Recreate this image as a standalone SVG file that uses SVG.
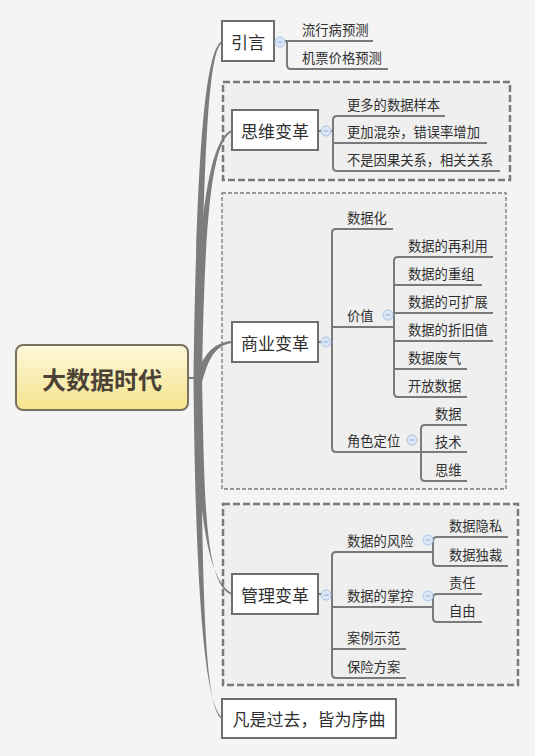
<svg xmlns="http://www.w3.org/2000/svg" width="535" height="756" viewBox="0 0 535 756">
<defs>
<linearGradient id="cg" x1="0" y1="0" x2="0" y2="1">
<stop offset="0" stop-color="#fdf8dc"/>
<stop offset="1" stop-color="#f5e38c"/>
</linearGradient>
<style>
text{font-family:"Noto Sans CJK SC","Noto Sans",sans-serif;fill:#2f2f2f;dominant-baseline:central}
.topic rect{fill:#fff;stroke:#6e6e6e;stroke-width:2}
.topic text{font-size:17px;text-anchor:middle}
.sub{font-size:13.3px}
.ln{fill:none;stroke:#7a7a7a;stroke-width:2}
.br{fill:#7c7c7c}
.box{fill:#efefef;stroke:#7a7a7a;stroke-width:2.5;stroke-dasharray:7 3}
.box2{fill:#efefef;stroke:#7a7a7a;stroke-width:1.3;stroke-dasharray:4 2}
.cb circle{fill:#dde8f6;stroke:#aac3e4;stroke-width:1}
.cb path{stroke:#8eaedb;stroke-width:1}
</style>
</defs>
<rect width="535" height="756" fill="#f4f4f4"/>
<g id="boundaries">
<rect class="box" x="223" y="82" width="287" height="98"/>
<rect class="box2" x="222" y="193" width="284" height="296"/>
<rect class="box" x="223" y="504" width="295" height="181"/>
</g>
<g id="connectors">
<path class="ln" d="M186,378 H198" stroke-width="2.5"/>
<path class="br" d="M193.5,378 C196.5,150 205.5,49 222,41 L222,43 C208.5,51 203.5,150 200.5,378 Z"/>
<path class="br" d="M195,378 C197,230 207.5,139 232,130 L232,132 C210.5,141 204.5,230 202,378 Z"/>
<path class="br" d="M195,380 C199.5,367 206,343 232,341 L232,343 C209.5,345.5 205.5,373 202,382 Z"/>
<path class="br" d="M195,378 C197,500 205.5,580.5 232,593 L232,595 C204.5,585 204.5,500 202,378 Z"/>
<path class="br" d="M193.5,378 C195.5,600 205.5,705.5 222,717 L222,719 C204.5,707.5 202.5,600 200.5,378 Z"/>
<path class="ln" d="M274,41 H373 M287,41 V65 Q287,69 291,69 H388"/>
<path class="ln" d="M318,131 H333 M445,116 H337 Q333,116 333,120 V167 Q333,171 337,171 H500 M333,143 H487"/>
<path class="ln" d="M318,342 H332 M393,229 H336 Q332,229 332,233 V448 Q332,452 336,452 H467 M332,327 H394"/>
<path class="ln" d="M493,257 H398 Q394,257 394,261 V393 Q394,397 398,397 H467 M394,285 H482 M394,313 H493 M394,341 H493 M394,369 H467"/>
<path class="ln" d="M467,425 H425 Q421,425 421,429 V477 Q421,481 425,481 H467"/>
<path class="ln" d="M318,594 H332 M433,552 H336 Q332,552 332,556 V674 Q332,678 336,678 H406 M332,607 H433 M332,649 H406"/>
<path class="ln" d="M508,537 H437 Q433,537 433,541 V562 Q433,566 437,566 H508"/>
<path class="ln" d="M482,594 H437 Q433,594 433,598 V618 Q433,622 437,622 H482"/>
</g>
<g id="center">
<rect x="16" y="345" width="172" height="65" rx="7" fill="url(#cg)" stroke="#7a715f" stroke-width="2"/>
<text x="102" y="378" font-size="24" font-weight="bold" text-anchor="middle" style="fill:#4a4236">大数据时代</text>
</g>
<g id="t-yinyan" class="topic"><rect x="222" y="21" width="52" height="40"/><text x="248" y="41">引言</text></g>
<g id="t-siwei" class="topic"><rect x="232" y="110" width="86" height="40"/><text x="275" y="130">思维变革</text></g>
<g id="t-shangye" class="topic"><rect x="232" y="322" width="86" height="40"/><text x="275" y="342">商业变革</text></g>
<g id="t-guanli" class="topic"><rect x="232" y="574" width="86" height="40"/><text x="275" y="594">管理变革</text></g>
<g id="t-fanshi" class="topic"><rect x="222" y="699" width="174" height="39"/><text x="309" y="718">凡是过去，皆为序曲</text></g>
<g id="collapse" class="cb">
<g><circle cx="280" cy="42" r="5"/><path d="M277.5,42 H282.5"/></g>
<g><circle cx="326" cy="131" r="5"/><path d="M323.5,131 H328.5"/></g>
<g><circle cx="326" cy="342" r="5"/><path d="M323.5,342 H328.5"/></g>
<g><circle cx="388" cy="315" r="5"/><path d="M385.5,315 H390.5"/></g>
<g><circle cx="412" cy="440" r="5"/><path d="M409.5,440 H414.5"/></g>
<g><circle cx="326" cy="595" r="5"/><path d="M323.5,595 H328.5"/></g>
<g><circle cx="428" cy="540" r="5"/><path d="M425.5,540 H430.5"/></g>
<g><circle cx="428" cy="596" r="5"/><path d="M425.5,596 H430.5"/></g>
</g>
<g id="s-yinyan">
<text class="sub" x="302" y="29">流行病预测</text>
<text class="sub" x="302" y="57">机票价格预测</text>
</g>
<g id="s-siwei">
<text class="sub" x="347" y="104">更多的数据样本</text>
<text class="sub" x="347" y="131">更加混杂，错误率增加</text>
<text class="sub" x="347" y="159">不是因果关系，相关关系</text>
</g>
<g id="s-shangye">
<text class="sub" x="347" y="217">数据化</text>
<text class="sub" x="347" y="315">价值</text>
<text class="sub" x="347" y="440">角色定位</text>
</g>
<g id="s-jiazhi">
<text class="sub" x="408" y="245">数据的再利用</text>
<text class="sub" x="408" y="273">数据的重组</text>
<text class="sub" x="408" y="301">数据的可扩展</text>
<text class="sub" x="408" y="329">数据的折旧值</text>
<text class="sub" x="408" y="357">数据废气</text>
<text class="sub" x="408" y="385">开放数据</text>
</g>
<g id="s-juese">
<text class="sub" x="435" y="413">数据</text>
<text class="sub" x="435" y="441">技术</text>
<text class="sub" x="435" y="469">思维</text>
</g>
<g id="s-guanli">
<text class="sub" x="347" y="540">数据的风险</text>
<text class="sub" x="347" y="595">数据的掌控</text>
<text class="sub" x="347" y="637">案例示范</text>
<text class="sub" x="347" y="666">保险方案</text>
</g>
<g id="s-fengxian">
<text class="sub" x="449" y="525">数据隐私</text>
<text class="sub" x="449" y="554">数据独裁</text>
</g>
<g id="s-zhangkong">
<text class="sub" x="449" y="582">责任</text>
<text class="sub" x="449" y="610">自由</text>
</g>
</svg>
